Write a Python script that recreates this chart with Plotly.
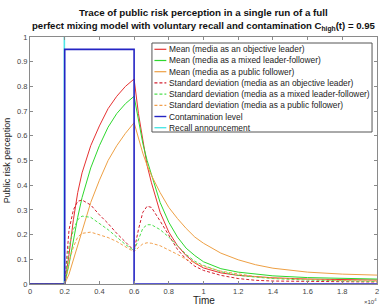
import plotly.graph_objects as go

# time in units of 10^4
t = [0, 0.2, 0.225, 0.25, 0.275, 0.3, 0.35, 0.4, 0.45, 0.5, 0.55, 0.6,
     0.625, 0.65, 0.675, 0.7, 0.75, 0.8, 0.85, 0.9, 0.95, 1.0, 1.1, 1.2, 1.3, 1.4, 1.6, 1.8, 2.0]

mean_objective = [0, 0, 0.12, 0.26, 0.37, 0.45, 0.56, 0.64, 0.71, 0.76, 0.80, 0.83,
                  0.69, 0.58, 0.48, 0.41, 0.29, 0.21, 0.155, 0.115, 0.085, 0.065, 0.045, 0.035, 0.03, 0.025, 0.02, 0.018, 0.016]
mean_mixed     = [0, 0, 0.08, 0.18, 0.27, 0.35, 0.47, 0.56, 0.635, 0.69, 0.73, 0.76,
                  0.66, 0.57, 0.50, 0.44, 0.33, 0.25, 0.19, 0.145, 0.115, 0.09, 0.062, 0.048, 0.039, 0.033, 0.026, 0.022, 0.02]
mean_follower  = [0, 0, 0.04, 0.10, 0.16, 0.22, 0.33, 0.42, 0.50, 0.56, 0.61, 0.653,
                  0.59, 0.53, 0.48, 0.44, 0.37, 0.31, 0.265, 0.225, 0.19, 0.165, 0.125, 0.098, 0.078, 0.064, 0.048, 0.04, 0.036]

std_objective = [0, 0, 0.22, 0.30, 0.335, 0.34, 0.32, 0.28, 0.245, 0.205, 0.17, 0.135,
                 0.22, 0.29, 0.315, 0.31, 0.255, 0.195, 0.14, 0.10, 0.072, 0.055, 0.035, 0.022, 0.015, 0.012, 0.01, 0.009, 0.008]
std_mixed     = [0, 0, 0.15, 0.22, 0.26, 0.275, 0.27, 0.245, 0.22, 0.19, 0.16, 0.135,
                 0.18, 0.225, 0.24, 0.24, 0.22, 0.19, 0.155, 0.12, 0.092, 0.075, 0.05, 0.035, 0.028, 0.022, 0.016, 0.012, 0.01]
std_follower  = [0, 0, 0.09, 0.15, 0.19, 0.205, 0.21, 0.20, 0.188, 0.172, 0.152, 0.13,
                 0.148, 0.162, 0.167, 0.165, 0.155, 0.138, 0.12, 0.10, 0.085, 0.072, 0.052, 0.04, 0.03, 0.024, 0.018, 0.014, 0.012]

contam_t = [0, 0.2, 0.2, 0.6, 0.6, 2.0]
contam_v = [0, 0, 0.95, 0.95, 0, 0]
recall_t = [0.198, 0.198]
recall_v = [0, 1]

names = [
    "Mean (media as an objective leader)",
    "Mean (media as a mixed leader-follower)",
    "Mean (media as a public follower)",
    "Standard deviation (media as an objective leader)",
    "Standard deviation (media as a mixed leader-follower)",
    "Standard deviation (media as a public follower)",
    "Contamination level",
    "Recall announcement",
]
colors = ["#e63232", "#2ed82e", "#eea044", "#d42030", "#4ee04e", "#f2a04c", "#2424c4", "#4ee6e6"]
dashes = ["solid", "solid", "solid", "3px,2px", "3px,2px", "3px,2px", "solid", "solid"]
widths = [1, 1, 1, 1, 1, 1, 1.6, 1.6]

series = [mean_objective, mean_mixed, mean_follower, std_objective, std_mixed, std_follower]

fig = go.Figure()
fig.add_trace(go.Scatter(x=recall_t, y=recall_v, mode="lines", name=names[7],
                         line=dict(color=colors[7], width=widths[7]), showlegend=False))
for i, s in enumerate(series):
    fig.add_trace(go.Scatter(x=t, y=s, mode="lines", name=names[i],
                             line=dict(color=colors[i], width=widths[i], dash=dashes[i]), showlegend=False))
fig.add_trace(go.Scatter(x=contam_t, y=contam_v, mode="lines", name=names[6],
                         line=dict(color=colors[6], width=widths[6]), showlegend=False))

L, R, T, B = 29, 379, 37, 284
W, H = 386, 306
def xp(px): return (px - L) / (R - L)
def yp(py): return (B - py) / (B - T)

FONT = "Liberation Sans, Arial, sans-serif"
shapes = []
annotations = []
# manual legend box
shapes.append(dict(type="rect", xref="paper", yref="paper", x0=xp(152), x1=xp(374), y0=yp(132), y1=yp(43),
                   line=dict(color="#555555", width=1), fillcolor="white", layer="above"))
for i, nm in enumerate(names):
    py = 49.3 + i * 11.2
    shapes.append(dict(type="line", xref="paper", yref="paper", x0=xp(154.5), x1=xp(166.5), y0=yp(py), y1=yp(py),
                       line=dict(color=colors[i], width=1.2 if i < 6 else 1.4, dash=dashes[i]),
                       layer="above"))
    annotations.append(dict(xref="paper", yref="paper", x=xp(167.5), y=yp(py), text=nm, showarrow=False,
                            xanchor="left", yanchor="middle", font=dict(size=8.4, color="#222222", family=FONT)))

# title (two lines)
annotations.append(dict(xref="paper", yref="paper", x=xp(204), y=yp(12.7), showarrow=False,
                        text="<b>Trace of public risk perception in a single run of a full</b>",
                        xanchor="center", yanchor="middle", font=dict(size=9.8, color="#111111", family=FONT)))
annotations.append(dict(xref="paper", yref="paper", x=xp(204), y=yp(18.5), showarrow=False,
                        text="<b>perfect mixing model with voluntary recall and contamination C<sub>high</sub>(t) = 0.95</b>",
                        xanchor="center", yanchor="top", font=dict(size=9.6, color="#111111", family=FONT)))

annotations.append(dict(xref="paper", yref="paper", x=0.5, y=yp(300), text="Time", showarrow=False,
                        xanchor="center", yanchor="middle", font=dict(size=10, color="#222222", family=FONT)))
annotations.append(dict(xref="paper", yref="paper", x=xp(381), y=yp(301), text="×10<sup>4</sup>", showarrow=False,
                        xanchor="right", yanchor="middle", font=dict(size=6, color="#444444", family=FONT)))

fig.update_layout(
    width=W, height=H,
    margin=dict(l=L, r=W - R, t=T, b=H - B),
    paper_bgcolor="white", plot_bgcolor="white",
    showlegend=False,
    xaxis=dict(range=[0, 2], tickmode="array", tickvals=[0, 0.2, 0.4, 0.6, 0.8, 1, 1.2, 1.4, 1.6, 1.8, 2],
               ticktext=["0", "0.2", "0.4", "0.6", "0.8", "1", "1.2", "1.4", "1.6", "1.8", "2"],
               showline=True, mirror="ticks", linecolor="#8a8a8a", linewidth=1,
               ticks="inside", ticklen=3, tickcolor="#8a8a8a", showgrid=False, zeroline=False,
               tickfont=dict(size=7.5, color="#444444", family=FONT)),
    yaxis=dict(range=[0, 1], tickmode="array", tickvals=[0, 0.1, 0.2, 0.3, 0.4, 0.5, 0.6, 0.7, 0.8, 0.9, 1],
               ticktext=["0", "0.1", "0.2", "0.3", "0.4", "0.5", "0.6", "0.7", "0.8", "0.9", "1"],
               showline=True, mirror="ticks", linecolor="#8a8a8a", linewidth=1,
               ticks="inside", ticklen=3, tickcolor="#8a8a8a", showgrid=False, zeroline=False,
               title=dict(text="Public risk perception", standoff=4,
                          font=dict(size=9, color="#222222", family=FONT)),
               tickfont=dict(size=7.5, color="#444444", family=FONT)),
    shapes=shapes, annotations=annotations,
)

fig.write_html("out.html")
